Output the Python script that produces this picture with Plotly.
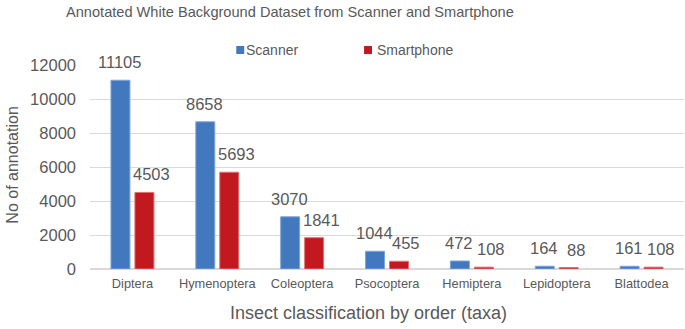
import plotly.graph_objects as go

categories = ["Diptera", "Hymenoptera", "Coleoptera", "Psocoptera", "Hemiptera", "Lepidoptera", "Blattodea"]
scanner = [11105, 8658, 3070, 1044, 472, 164, 161]
smartphone = [4503, 5693, 1841, 455, 108, 88, 108]
y_ticks = [0, 2000, 4000, 6000, 8000, 10000, 12000]
y_ticktext = ["0", "2000", "4000", "6000", "8000", "10000", "12000"]

GRAY = "#595959"
FONT = "Liberation Sans, Arial, sans-serif"
BLUE = "#4279BE"
RED = "#C1191F"

W, H = 685, 329
L, R, T, B = 89.5, 0.5, 65, 60
PW = W - L - R
PH = H - T - B


def px(x):
    return (x - L) / PW


def py(y):
    return (H - B - y) / PH


fig = go.Figure()
for name, vals, col, edge in [("Scanner", scanner, BLUE, "#7FA6D8"),
                              ("Smartphone", smartphone, RED, "#E07070")]:
    fig.add_trace(go.Bar(
        name=name, x=categories, y=vals,
        marker=dict(color=col, line=dict(color=edge, width=1)),
        showlegend=False, hoverinfo="x+y+name",
    ))

annotations = []
# data labels, placed on the data scale above each bar
for vals, xs in [(scanner, -12.5), (smartphone, 19)]:
    for c, v in zip(categories, vals):
        annotations.append(dict(text=str(v), x=c, y=v, xref="x", yref="y",
                                xanchor="center", yanchor="bottom", xshift=xs, yshift=7,
                                showarrow=False,
                                font=dict(size=16.5, color=GRAY, family=FONT)))

texts = [
    dict(text="Annotated White Background Dataset from Scanner and Smartphone",
         x=px(290), y=py(12), xanchor="center", yanchor="middle",
         font=dict(size=14.6, color=GRAY, family=FONT)),
    dict(text="No of annotation", x=px(11), y=py(165), xanchor="center", yanchor="middle",
         textangle=-90, font=dict(size=16, color=GRAY, family=FONT)),
    dict(text="Insect classification by order (taxa)", x=px(368.5), y=py(313),
         xanchor="center", yanchor="middle", font=dict(size=18, color=GRAY, family=FONT)),
    dict(text="Scanner", x=px(244), y=py(50), xanchor="left", yanchor="middle",
         font=dict(size=14, color=GRAY, family=FONT)),
    dict(text="Smartphone", x=px(375), y=py(50), xanchor="left", yanchor="middle",
         font=dict(size=14, color=GRAY, family=FONT)),
]
for a in texts:
    a.update(xref="paper", yref="paper", showarrow=False)
annotations += texts

shapes = [
    dict(type="rect", xref="paper", yref="paper", x0=px(236), x1=px(244), y0=py(54), y1=py(46),
         fillcolor=BLUE, line=dict(width=0)),
    dict(type="rect", xref="paper", yref="paper", x0=px(364), x1=px(372), y0=py(54), y1=py(46),
         fillcolor=RED, line=dict(width=0)),
]

fig.update_layout(
    width=W, height=H,
    margin=dict(l=L, r=R, t=T, b=B),
    paper_bgcolor="white", plot_bgcolor="white",
    barmode="group", bargap=0.435, bargroupgap=0.208,
    font=dict(family=FONT, color=GRAY),
    showlegend=False,
    annotations=annotations, shapes=shapes,
)
fig.update_yaxes(range=[0, 12000], tickvals=y_ticks, ticktext=y_ticktext, showgrid=True,
                 gridcolor="#D9D9D9", gridwidth=1, zeroline=True, zerolinecolor="#D9D9D9",
                 zerolinewidth=1.5, showline=False, automargin=False,
                 tickfont=dict(size=16.5, color=GRAY, family=FONT), ticks="",
                 ticklabelstandoff=13)
fig.update_xaxes(showline=False, ticks="", automargin=False,
                 tickfont=dict(size=12.8, color=GRAY, family=FONT), ticklabelstandoff=5)

fig.write_html("out.html", config={"displayModeBar": False},
               post_script="document.body.style.margin='0';document.body.style.overflow='hidden';")
